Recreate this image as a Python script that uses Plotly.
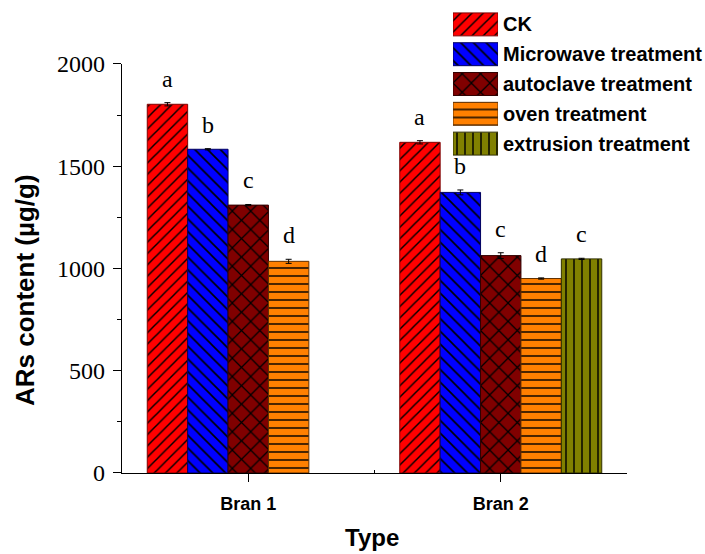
import plotly.graph_objects as go

# ---------------- data ----------------
categories = ["Bran 1", "Bran 2"]
series = ["CK", "Microwave treatment", "autoclave treatment", "oven treatment", "extrusion treatment"]
ck_vals = [1803, 1617]
microwave_vals = [1583, 1372]
autoclave_vals = [1310, 1063]
oven_vals = [1035, 951]
extrusion_vals = [None, 1047]
ck_err = [8, 8]
microwave_err = [3, 12]
autoclave_err = [3, 14]
oven_err = [10, 3]
extrusion_err = [None, 3]
ck_letters = ["a", "a"]
microwave_letters = ["b", "b"]
autoclave_letters = ["c", "c"]
oven_letters = ["d", "d"]
extrusion_letters = [None, "c"]
y_ticks = [0, 500, 1000, 1500, 2000]

values = [ck_vals, microwave_vals, autoclave_vals, oven_vals, extrusion_vals]
errors = [ck_err, microwave_err, autoclave_err, oven_err, extrusion_err]
letters = [ck_letters, microwave_letters, autoclave_letters, oven_letters, extrusion_letters]

# ---------------- styles ----------------
fills = ["#FF0000", "#0000FF", "#800000", "#FF8000", "#808000"]
edges = ["#800000", "#000060", "#300000", "#603000", "#303000"]
shapes = ["/", "\\", "x", "-", "|"]
psizes = [8, 9, 13, 8, 8]

BARGAP = 0.2
nser = len(series)
slot = (1 - BARGAP) / nser
xpos = list(range(len(categories)))

def pattern(k):
    return dict(shape=shapes[k], fgcolor="#000000", bgcolor=fills[k], fgopacity=1,
                fillmode="replace", size=psizes[k], solidity=0.18)

fig = go.Figure()
for i in range(nser):
    fig.add_trace(go.Bar(
        x=xpos, y=values[i], name=series[i],
        marker=dict(color=fills[i], line=dict(color=edges[i], width=1), pattern=pattern(i)),
        error_y=dict(type="data", array=errors[i], visible=True, color="black",
                     thickness=1, width=3),
        showlegend=False, xaxis="x", yaxis="y"))

annotations = []
for i in range(nser):
    for j, v in enumerate(values[i]):
        if v is None or letters[i][j] is None:
            continue
        annotations.append(dict(
            x=xpos[j] + (i - (nser - 1) / 2) * slot, y=v + errors[i][j],
            xref="x", yref="y", text=letters[i][j], showarrow=False,
            yanchor="bottom", yshift=9,
            font=dict(family="Liberation Serif, Times New Roman, serif", size=24, color="black")))

# custom legend drawn as an inset of horizontal bars (one bar per series)
for k in range(nser):
    fig.add_trace(go.Bar(
        y=[k], x=[1], orientation="h", width=0.77, offset=-0.385,
        marker=dict(color=fills[k], line=dict(color=edges[k], width=1), pattern=pattern(k)),
        showlegend=False, xaxis="x2", yaxis="y2", hoverinfo="skip"))
    annotations.append(dict(
        x=1, y=k, xref="x2", yref="y2", text=series[k], showarrow=False,
        xanchor="left", yanchor="middle", xshift=3,
        font=dict(family="Arial, Liberation Sans, sans-serif", size=20, color="black", weight="bold")))

# axis titles
annotations.append(dict(
    x=0.4303, y=-0.105, xref="paper", yref="paper", text="Type", showarrow=False,
    xanchor="center", yanchor="top",
    font=dict(family="Arial, Liberation Sans, sans-serif", size=24, color="black", weight="bold")))
annotations.append(dict(
    x=-0.167, y=0.3935, xref="paper", yref="paper", text="ARs content (µg/g)", showarrow=False,
    textangle=-90, xanchor="center", yanchor="middle",
    font=dict(family="Arial, Liberation Sans, sans-serif", size=26, color="black", weight="bold")))

fig.update_layout(
    width=705, height=554,
    margin=dict(l=122, r=2, t=8, b=81, autoexpand=False),
    paper_bgcolor="white", plot_bgcolor="white",
    barmode="group", bargap=BARGAP, bargroupgap=0,
    annotations=annotations,
    xaxis=dict(domain=[0, 0.8692], range=[-0.5, 1.5], tickmode="array",
               tickvals=xpos, ticktext=categories, automargin=False,
               showline=True, linecolor="black", linewidth=1.2,
               ticks="outside", ticklen=8, tickwidth=1.2, tickcolor="black",
               ticklabelstandoff=6,
               minor=dict(tickmode="array", tickvals=[0.5], ticks="inside", ticklen=3,
                          tickcolor="black", tickwidth=1),
               tickfont=dict(family="Arial, Liberation Sans, sans-serif", size=18,
                             color="black", weight="bold"),
               showgrid=False, zeroline=False, fixedrange=True),
    yaxis=dict(domain=[0, 0.8796], range=[0, 2000], tickmode="array", tickvals=y_ticks,
               showline=True, linecolor="black", linewidth=1.2, automargin=False,
               ticks="outside", ticklen=8, tickwidth=1.2, tickcolor="black",
               ticklabelstandoff=3,
               minor=dict(dtick=250, tick0=0, ticks="outside", ticklen=4,
                          tickcolor="black", tickwidth=1, showgrid=False),
               tickfont=dict(family="Liberation Serif, Times New Roman, serif", size=24, color="black"),
               showgrid=False, zeroline=False, fixedrange=True),
    xaxis2=dict(domain=[0.5697, 0.6472], range=[0, 1], anchor="y2", visible=False,
                fixedrange=True, automargin=False),
    yaxis2=dict(domain=[0.6763, 0.9968], range=[nser - 0.5, -0.5], anchor="x2", visible=False,
                fixedrange=True, automargin=False),
)

fig.write_html("out.html")
